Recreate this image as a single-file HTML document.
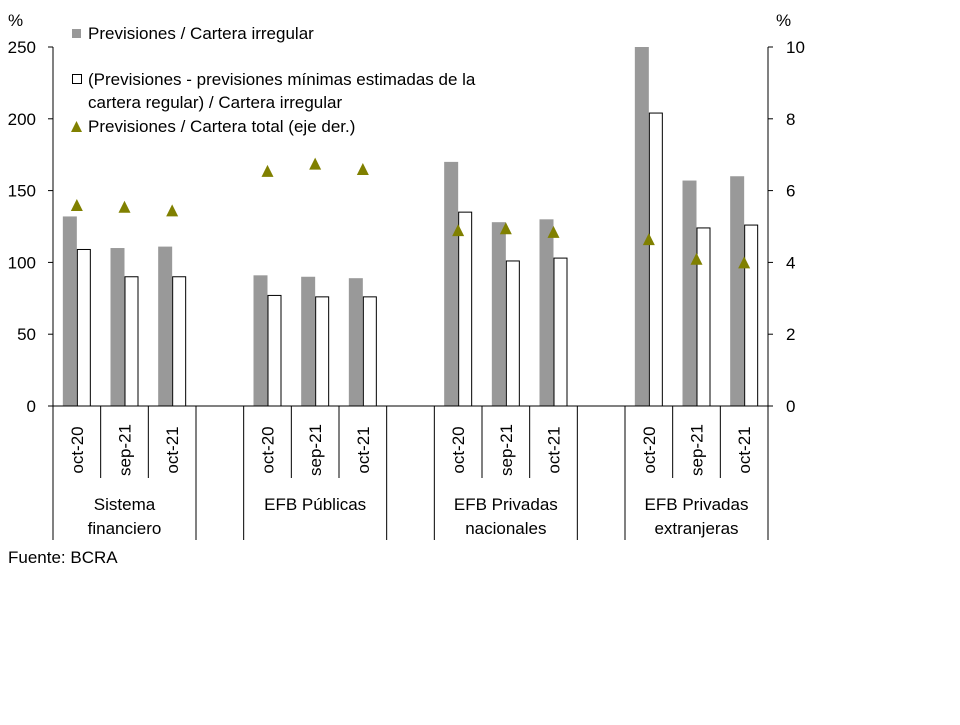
<!DOCTYPE html>
<html><head><meta charset="utf-8"><style>
body{margin:0;background:#fff;}
svg text{font-family:"Liberation Sans",sans-serif;font-size:17px;fill:#000;}
</style></head><body>
<svg width="960" height="720" viewBox="0 0 960 720" xmlns="http://www.w3.org/2000/svg">
<g id="c"></g>
<script>
(function(){
var s=document.getElementById('c'),ns='http://www.w3.org/2000/svg';
function el(t,a,txt){var e=document.createElementNS(ns,t);for(var k in a)e.setAttribute(k,a[k]);if(txt!=null)e.textContent=txt;s.appendChild(e);return e;}
var y0=406,yTop=47,L=53,R=768,W=(R-L)/15;
function yl(v){return y0-(y0-yTop)*v/250;}
function yr(v){return y0-(y0-yTop)*v/10;}
var d=[[132,109,5.6],[110,90,5.55],[111,90,5.45],null,[91,77,6.55],[90,76,6.75],[89,76,6.6],null,[170,135,4.9],[128,101,4.95],[130,103,4.85],null,[250,204,4.65],[157,124,4.1],[160,126,4.0]];
var lab=['oct-20','sep-21','oct-21'];
for(var i=0;i<15;i++){if(!d[i])continue;var c=L+W*(i+0.5);
el('rect',{x:c-14,y:yl(d[i][0]),width:14,height:y0-yl(d[i][0]),fill:'#999'});
el('rect',{x:c+0.5,y:yl(d[i][1]),width:13,height:y0-yl(d[i][1]),fill:'#fff',stroke:'#000','stroke-width':1});
var ty=yr(d[i][2]);el('polygon',{points:(c-6)+','+(ty+6)+' '+(c)+','+(ty-6)+' '+(c+6)+','+(ty+6),fill:'#808000'});
el('text',{x:0,y:0,transform:'translate('+(c+6)+',450) rotate(-90)','text-anchor':'middle'},lab[(i%4)]);}
for(var i=0;i<=15;i++){var x=L+W*i;var full=(i%4==0)||(i%4==3);el('line',{x1:x,y1:y0,x2:x,y2:full?540:478,stroke:'#000','stroke-width':1});}
el('line',{x1:L,y1:y0,x2:R,y2:y0,stroke:'#000'});
el('line',{x1:L,y1:yTop,x2:L,y2:y0,stroke:'#000'});
el('line',{x1:R,y1:yTop,x2:R,y2:y0,stroke:'#000'});
for(var v=0;v<=250;v+=50){el('line',{x1:L-5,y1:yl(v),x2:L,y2:yl(v),stroke:'#000'});el('text',{x:36,y:yl(v)+6,'text-anchor':'end'},v);}
for(var v=0;v<=10;v+=2){el('line',{x1:R,y1:yr(v),x2:R+5,y2:yr(v),stroke:'#000'});el('text',{x:786,y:yr(v)+6},v);}
el('text',{x:8,y:26},'%');el('text',{x:776,y:26},'%');
var g=[['Sistema','financiero'],['EFB Públicas'],['EFB Privadas','nacionales'],['EFB Privadas','extranjeras']];
for(var k=0;k<4;k++){var cx=L+W*(k*4+1.5);el('text',{x:cx,y:510,'text-anchor':'middle'},g[k][0]);if(g[k].length>1)el('text',{x:cx,y:534,'text-anchor':'middle'},g[k][1]);}
el('text',{x:8,y:563},'Fuente: BCRA');
el('rect',{x:72,y:29,width:9,height:9,fill:'#999'});
el('text',{x:88,y:39},'Previsiones / Cartera irregular');
el('rect',{x:72.5,y:74.5,width:9,height:9,fill:'#fff',stroke:'#000'});
el('text',{x:88,y:85},'(Previsiones - previsiones mínimas estimadas de la');
el('text',{x:88,y:108},'cartera regular) / Cartera irregular');
el('polygon',{points:'71,132 76.5,121 82,132',fill:'#808000'});
el('text',{x:88,y:132},'Previsiones / Cartera total (eje der.)');
})();
</script>
</svg>
</body></html>
